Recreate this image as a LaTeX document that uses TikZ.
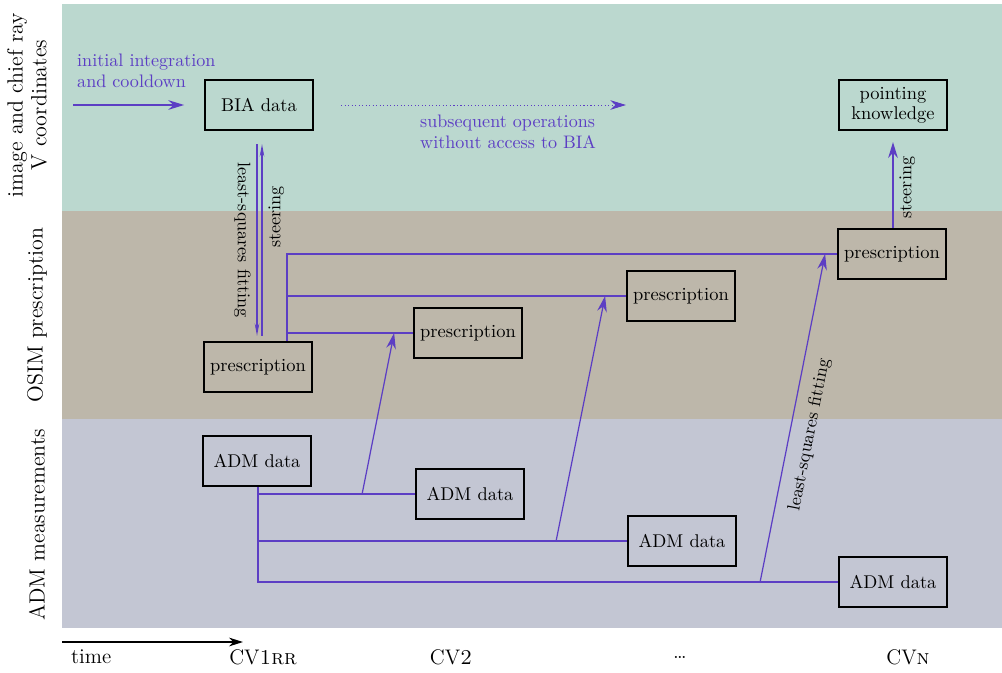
\documentclass[tikz,border=0pt]{standalone}
\usepackage{tikz}
\usetikzlibrary{arrows.meta,positioning,calc}
\definecolor{bandgreen}{RGB}{187,216,207}
\definecolor{bandbrown}{RGB}{189,183,170}
\definecolor{bandblue}{RGB}{195,198,211}
\definecolor{flow}{RGB}{92,62,196}
\tikzset{
  box/.style={draw,rectangle,line width=1.3pt,minimum width=2.15cm,minimum height=1.0cm,align=center,font=\fontsize{10.5}{11.5}\selectfont},
  conn/.style={draw=flow,line width=0.7pt},
  arr/.style={conn,-{Stealth[length=9pt,width=5.5pt]}},
  narr/.style={conn,-{Stealth[length=7pt,width=2.6pt]}},
  lbl/.style={font=\fontsize{10.3}{11}\selectfont},
  note/.style={text=flow,font=\fontsize{10.3}{12}\selectfont,align=left},
  side/.style={rotate=90,align=center,font=\fontsize{12.5}{13.5}\selectfont},
  axis/.style={font=\fontsize{12}{13}\selectfont}
}
\begin{document}
\begin{tikzpicture}[x=0.02cm,y=-0.02cm]
  \useasboundingbox (0,0) rectangle (1002,673);
  % Bands
  \fill[bandgreen] (62,4) rectangle (1002,211);
  \fill[bandbrown] (62,211) rectangle (1002,419);
  \fill[bandblue] (62,419) rectangle (1002,628);
  \node[side] (lv) at (27,105) {image and chief ray\\V coordinates};
  \node[side] (lo) at (37,315) {OSIM prescription};
  \node[side] (la) at (37,525) {ADM measurements};

  % Boxes
  \node[box] (bia) at (259,105) {BIA data};
  \node[box] (pk) at (893,105) {pointing\\knowledge};
  \node[box] (p0) at (258,367) {prescription};
  \node[box] (p1) at (468,333) {prescription};
  \node[box] (p2) at (681,296) {prescription};
  \node[box] (p3) at (892,254) {prescription};
  \node[box] (a0) at (257,461) {ADM data};
  \node[box] (a1) at (470,494) {ADM data};
  \node[box] (a2) at (682,541) {ADM data};
  \node[box] (a3) at (893,582) {ADM data};

  % Initial and subsequent operations
  \coordinate (init) at (73,105);
  \draw[arr] (init) -- ($(bia.west)+(-20,0)$);
  \node[note, anchor=west] (initlbl) at (71,71) {initial integration\\and cooldown};
  \coordinate (subA) at (341,105);
  \coordinate (subB) at (626,105);
  \draw[arr, line width=0.5pt, dash pattern=on 0.6pt off 1.4pt] (subA) -- (subB);
  \node[note, anchor=west] (sublbl) at (414,132) {subsequent operations\\without access to BIA};

  % BIA <-> first prescription
  \draw[narr] ($(bia.south)+(-2,13)$) -- node[lbl, sloped, below, pos=0.5] {least-squares fitting} ($(p0.north)+(-1,-5)$);
  \draw[narr] ($(p0.north)+(4,-5)$) -- node[lbl, sloped, below, pos=0.62] {steering} ($(bia.south)+(3,13)$);

  % Prescription tree
  \coordinate (ptrunk) at ($(p0.north)+(29,0)$);
  \foreach \t in {p1,p2,p3}
    \draw[conn] (ptrunk) |- (\t.west);

  % ADM tree
  \coordinate (atrunk) at ($(a0.south)+(1,0)$);
  \foreach \t in {a1,a2,a3}
    \draw[conn] (atrunk) |- (\t.west);

  % Fitting arrows
  \draw[arr] ($(a1.west)+(-53,0)$) -- ($(p1.west)+(-19,0)$);
  \draw[arr] ($(a2.west)+(-71,0)$) -- ($(p2.west)+(-21,0)$);
  \draw[arr] ($(a3.west)+(-78,0)$) -- node[lbl, sloped, below=3pt, pos=0.46] {least-squares fitting} ($(p3.west)+(-12,0)$);

  % Steering to pointing knowledge
  \draw[arr] ($(p3.north)+(1,0)$) -- node[lbl, sloped, below, pos=0.47] {steering} ($(pk.south)+(0,11)$);

  % Time axis
  \coordinate (t0) at (62,642);
  \coordinate (t1) at (243,642);
  \draw[-{Stealth[length=8pt,width=5pt]}, line width=0.7pt] (t0) -- (t1);
  \node[axis, anchor=west] (tlbl) at (65,657) {time};
  \node[axis] (cv1) at (263,657) {CV\textsc{1rr}};
  \node[axis] (cv2) at (451,657) {CV\textsc{2}};
  \node[axis] (cvd) at (680,657) {\dots};
  \node[axis] (cvn) at (908,657) {CV\textsc{n}};
\end{tikzpicture}
\end{document}
